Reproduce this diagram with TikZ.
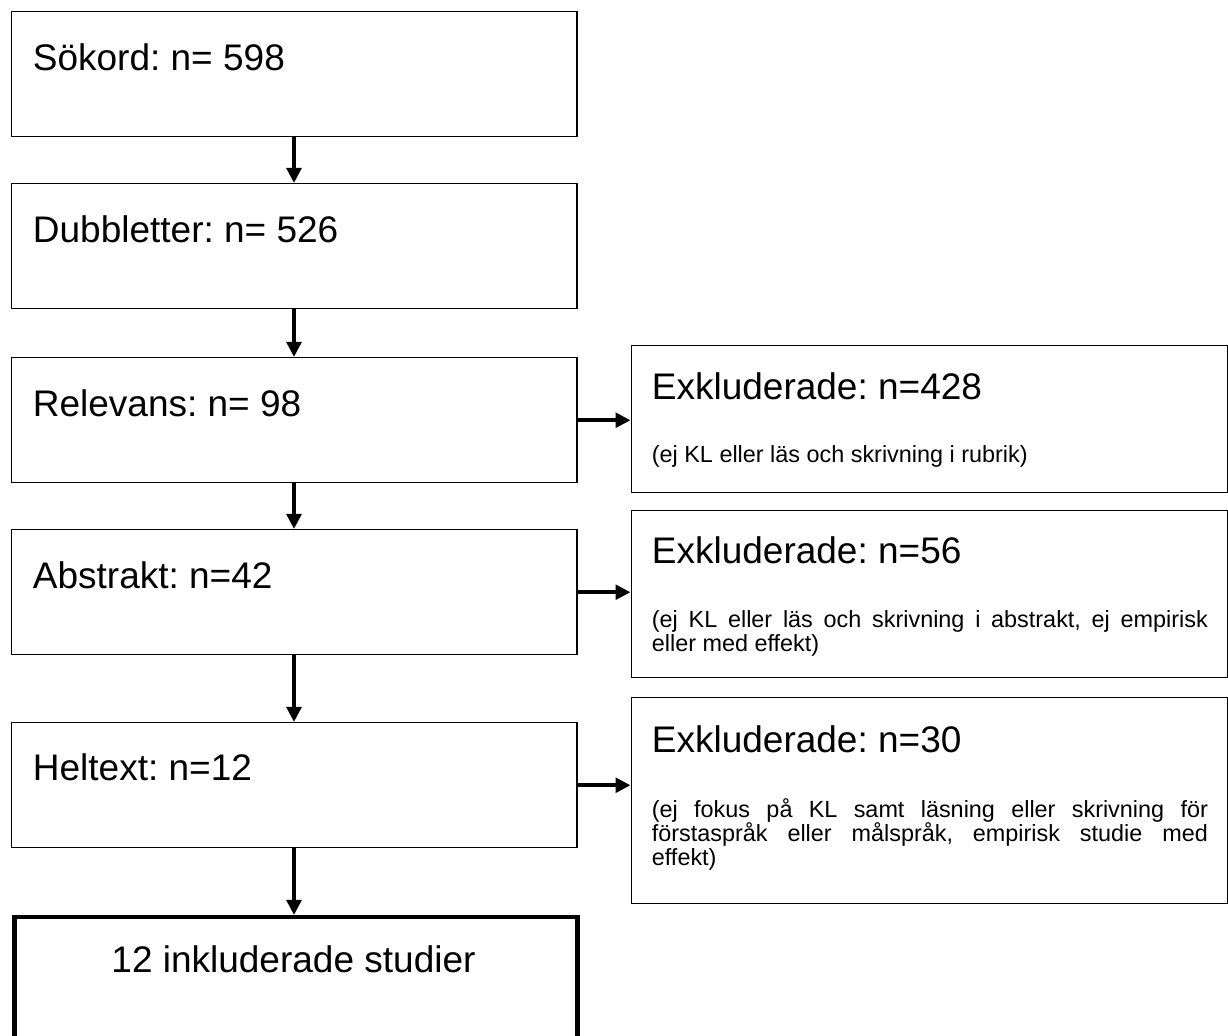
\documentclass[tikz,border=0pt]{standalone}
\usepackage{fontspec}
\setmainfont{Liberation Sans}
\usetikzlibrary{arrows.meta,calc}
\frenchspacing
\begin{document}
\begin{tikzpicture}[x=0.5pt,y=-0.5pt,
  box/.style={draw, line width=0.75pt, inner sep=0pt, anchor=north west, minimum width=282.75pt, minimum height=62.5pt},
  finalbox/.style={draw, line width=2.25pt, inner sep=0pt, anchor=north west, minimum width=281.5pt, minimum height=75pt},
  ebox/.style={draw, line width=0.75pt, inner sep=0pt, anchor=north west, minimum width=298pt},
  big/.style={font=\fontsize{18.5}{22}\selectfont, inner sep=0pt, anchor=base west},
  small/.style={font=\fontsize{11.7}{12}\selectfont, inner sep=0pt, anchor=base west, text width=278pt, align=justify,
    execute at begin node={\hyphenpenalty=10000 \hbadness=10000 \frenchspacing}},
  arr/.style={line width=1.9pt, -{Triangle[length=7.5pt,width=7.3pt]}}]
\fill[white] (0,0) rectangle (1228,1036);
\useasboundingbox (0,0) rectangle (1228,1036);
\begin{scope}
\clip (0,0) rectangle (1228,1036);
% left column boxes
\node[box] (b1) at (10.5,10.7) {};
\node[box] (b2) at (10.5,183) {};
\node[box] (b3) at (10.5,357) {};
\node[box] (b4) at (10.5,529) {};
\node[box] (b5) at (10.5,722) {};
\node[finalbox] (b6) at (12,915) {};
% right column boxes
\node[ebox, minimum height=73.5pt] (eA) at (630.5,345) {};
\node[ebox, minimum height=83.5pt] (eB) at (630.5,510) {};
\node[ebox, minimum height=103pt] (eC) at (630.5,697) {};
\end{scope}
% texts
\node[big] (t1) at (32.5,70.7) {Sökord: n= 598};
\node[big] (t2) at (32.5,243) {Dubbletter: n= 526};
\node[big] (t3) at (32.5,416.5) {Relevans: n= 98};
\node[big] (t4) at (32.5,589) {Abstrakt: n=42};
\node[big] (t5) at (32.5,781) {Heltext: n=12};
\node[big, anchor=base] (t6) at (293.5,973) {12 inkluderade studier};
\node[big] (tA) at (651.5,400) {Exkluderade: n=428};
\node[small] (sA) at (651.5,463) {(ej KL eller läs och skrivning i rubrik)};
\node[big] (tB) at (651.5,564) {Exkluderade: n=56};
\node[small] (sB) at (651.5,628) {(ej KL eller läs och skrivning i abstrakt, ej empirisk\linebreak eller med effekt)};
\node[big] (tC) at (651.5,752.5) {Exkluderade: n=30};
\node[small] (sC) at (651.5,818) {(ej fokus på KL samt läsning eller skrivning för\linebreak förstaspråk eller målspråk, empirisk studie med\linebreak effekt)};
% connectors
\draw[arr] (b1.south) -- (b2.north);
\draw[arr] (b2.south) -- (b3.north);
\draw[arr] (b3.south) -- (b4.north);
\draw[arr] (b4.south) -- (b5.north);
\draw[arr] (b5.south) -- (b5.south |- b6.north);
\draw[arr] (b3.east) -- (b3.east -| eA.west);
\draw[arr] (b4.east) -- (b4.east -| eB.west);
\draw[arr] (b5.east) -- (b5.east -| eC.west);
\end{tikzpicture}
\end{document}
